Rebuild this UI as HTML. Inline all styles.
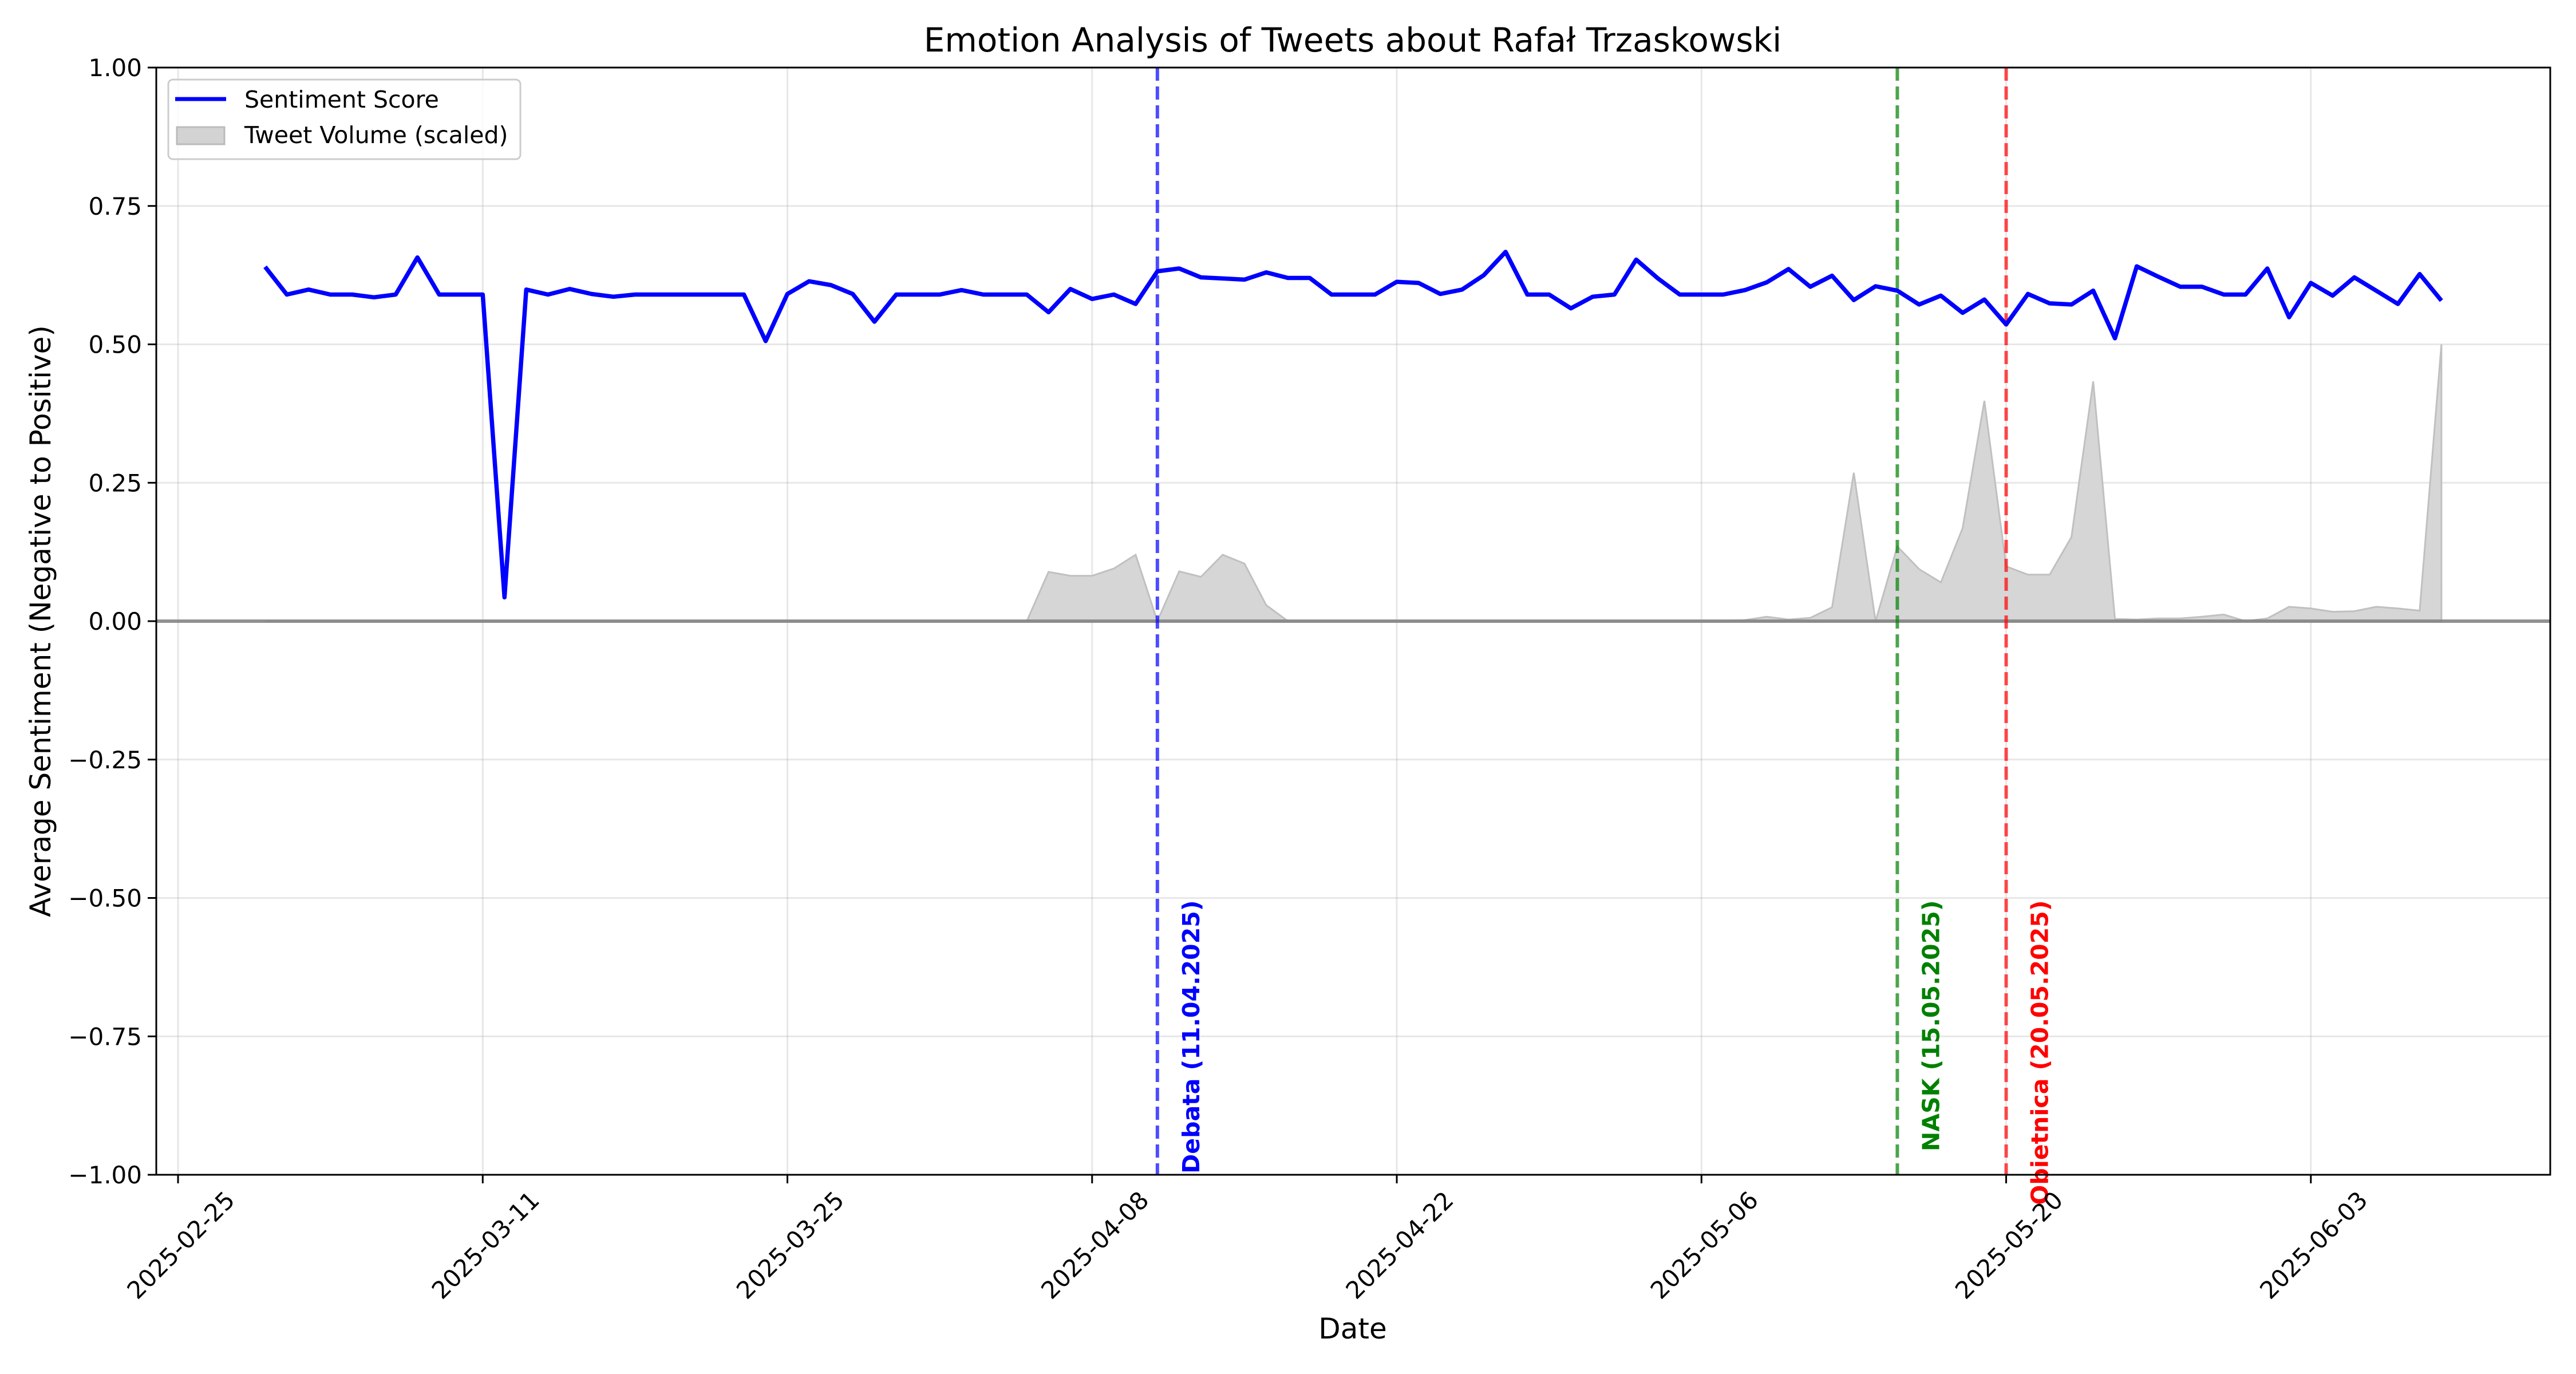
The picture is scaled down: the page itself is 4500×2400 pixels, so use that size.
<!DOCTYPE html>
<html><head><meta charset="utf-8"><style>
html,body{margin:0;padding:0;background:#fff}
svg{display:block}
text{font-family:"DejaVu Sans","Liberation Sans",sans-serif}
</style></head><body>
<svg id="chart" xmlns="http://www.w3.org/2000/svg" width="4500" height="2400" viewBox="0 0 4500 2400">
<rect width="4500" height="2400" fill="#fff"/>
<g id="grid"></g>
<g id="volume"></g>
<g id="events"></g>
<g id="sent"></g>
<g id="axes"></g>
<text x="2363" y="90" font-size="58" text-anchor="middle">Emotion Analysis of Tweets about Rafał Trzaskowski</text>
<text x="2363" y="2338" font-size="50" text-anchor="middle">Date</text>
<text transform="translate(88,1085) rotate(-90)" font-size="50" text-anchor="middle">Average Sentiment (Negative to Positive)</text>
<g>
<rect x="294" y="139" width="615" height="139" rx="8" fill="#fff" fill-opacity="0.8" stroke="#ccc" stroke-width="3"/>
<line x1="306" y1="173" x2="395" y2="173" stroke="#0000ff" stroke-width="7"/>
<text x="427" y="188" font-size="41">Sentiment Score</text>
<rect x="309" y="222" width="83" height="30" fill="#d3d3d3" stroke="#bbb" stroke-width="3"/>
<text x="427" y="250" font-size="41">Tweet Volume (scaled)</text>
</g>
</svg>
<script>
const sentiment = [0.640,0.590,0.599,0.590,0.590,0.585,0.590,0.657,0.590,0.590,0.590,0.043,0.599,0.590,0.600,0.591,0.586,0.590,0.590,0.590,0.590,0.590,0.590,0.506,0.591,
0.614,0.607,0.591,0.541,0.590,0.590,0.590,0.598,0.590,0.590,0.590,0.558,0.600,0.582,0.590,0.573,0.632,0.637,0.621,0.619,0.617,0.630,0.620,0.620,0.590,
0.590,0.590,0.613,0.611,0.591,0.599,0.625,0.667,0.590,0.590,0.565,0.586,0.590,0.653,0.619,0.590,0.590,0.590,0.598,0.612,0.636,0.604,0.624,0.580,0.605,
0.597,0.572,0.588,0.557,0.581,0.536,0.591,0.574,0.572,0.597,0.511,0.641,0.622,0.604,0.604,0.590,0.590,0.637,0.549,0.611,0.588,0.621,0.597,0.573,0.627,0.579];
const volume = [0,0,0,0,0,0,0,0,0,0,0,0,0,0,0,0,0,0,0,0,0,0,0,0,0,
0,0,0,0,0,0,0,0,0,0,0,0.089,0.082,0.082,0.095,0.120,0,0.090,0.080,0.120,0.104,0.029,0,0,0,
0,0,0,0,0,0,0,0,0,0,0,0,0,0,0,0,0,0,0.002,0.008,0.003,0.006,0.025,0.268,0,
0.135,0.094,0.070,0.168,0.398,0.099,0.084,0.084,0.152,0.433,0.004,0.003,0.005,0.005,0.008,0.012,0,0.005,0.026,0.023,0.017,0.018,0.026,0.023,0.019,0.500];
const startDay = 4; // 2025-03-01 as days after 2025-02-25
const xTickLabels = ["2025-02-25","2025-03-11","2025-03-25","2025-04-08","2025-04-22","2025-05-06","2025-05-20","2025-06-03"];
const xTickDays = [0,14,28,42,56,70,84,98];
const yTicks = [-1,-0.75,-0.5,-0.25,0,0.25,0.5,0.75,1];
const yTickLabels = ["−1.00","−0.75","−0.50","−0.25","0.00","0.25","0.50","0.75","1.00"];
const eventDays = [45,79,84];
const eventLabels = ["Debata (11.04.2025)","NASK (15.05.2025)","Obietnica (20.05.2025)"];
const eventColors = ["#0000ff","#008000","#ff0000"];

const L=273,R=4455,T=118,B=2052;
const XMIN=-1,XMAX=109,YMIN=-1,YMAX=1;
const xs=d=>L+(d-XMIN)/(XMAX-XMIN)*(R-L);
const ys=v=>B-(v-YMIN)/(YMAX-YMIN)*(B-T);
const NS="http://www.w3.org/2000/svg";
function mk(tag,attrs,parent){const e=document.createElementNS(NS,tag);for(const k in attrs)e.setAttribute(k,attrs[k]);parent.appendChild(e);return e;}
const grid=document.getElementById('grid'),axes=document.getElementById('axes'),vol=document.getElementById('volume'),ev=document.getElementById('events'),sent=document.getElementById('sent');

yTicks.forEach((v,i)=>{
  const g=mk('line',{x1:L,x2:R,y1:ys(v),y2:ys(v),stroke:'#b0b0b0','stroke-opacity':0.3,'stroke-width':3},grid);
  
  
  const t=mk('line',{x1:L-15,x2:L,y1:ys(v),y2:ys(v),stroke:'#000','stroke-width':3},axes);
  
  
  const lb=mk('text',{x:L-25,y:ys(v)+15,'font-size':42,'text-anchor':'end'},axes);
  
  
  lb.textContent=yTickLabels[i];
});
xTickDays.forEach((d,i)=>{
  const g=mk('line',{x1:xs(d),x2:xs(d),y1:T,y2:B,stroke:'#b0b0b0','stroke-opacity':0.3,'stroke-width':3},grid);
  
  
  const t=mk('line',{x1:xs(d),x2:xs(d),y1:B,y2:B+15,stroke:'#000','stroke-width':3},axes);
  
  
  const lb=mk('text',{'font-size':42,'text-anchor':'middle','dominant-baseline':'central',transform:`translate(${xs(d)+5},${B+123}) rotate(-45)`},axes);
  
  
  lb.textContent=xTickLabels[i];
});

// volume area
let pts=volume.map((v,i)=>`${xs(startDay+i).toFixed(1)},${ys(v).toFixed(1)}`);
const area=mk('path',{d:`M${xs(startDay)},${ys(0)} L${pts.join(' L')} L${xs(startDay+volume.length-1)},${ys(0)} Z`,fill:'#d6d6d6',stroke:'#c0c0c0','stroke-width':3},vol);


const zl=mk('line',{x1:L,x2:R,y1:ys(0),y2:ys(0),stroke:'#808080','stroke-opacity':0.85,'stroke-width':6},vol);



eventDays.forEach((d,i)=>{
  const l=mk('line',{x1:xs(d),x2:xs(d),y1:T,y2:B,stroke:eventColors[i],'stroke-opacity':0.7,'stroke-width':6,'stroke-dasharray':'23,10'},ev);
  
  
  const t=mk('text',{'font-size':41,'font-weight':'bold',fill:eventColors[i],'text-anchor':'end','dominant-baseline':'central',transform:`translate(${xs(d)+59},${ys(-0.5)+4}) rotate(-90)`},ev);
  
  
  t.textContent=eventLabels[i];
});

const sp=sentiment.map((v,i)=>`${xs(startDay+i).toFixed(1)},${ys(v).toFixed(1)}`);
const pl=mk('polyline',{points:sp.join(' '),fill:'none',stroke:'#0000ff','stroke-width':7.5,'stroke-linejoin':'round'},sent);



const fr=mk('rect',{x:L,y:T,width:R-L,height:B-T,fill:'none',stroke:'#000','stroke-width':3},axes);


</script>
</body></html>
